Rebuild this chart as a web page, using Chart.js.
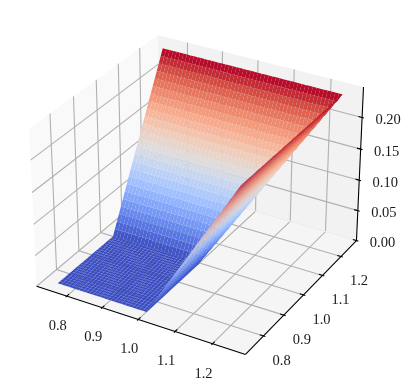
<!DOCTYPE html>
<html lang="en">

<head>
  <meta charset="UTF-8" />
  <title>Surface</title>
  <style>
    html, body { margin: 0; padding: 0; background: #fff; }
    canvas { display: block; }
  </style>
</head>

<body>
  <canvas id="surfaceChart" width="410" height="391"></canvas>
  <script src="https://cdn.jsdelivr.net/npm/chart.js"></script>
  <script>
    // Grid of the surface
    const gridX = [0.75,0.76,0.77,0.78,0.79,0.80,0.81,0.82,0.83,0.84,0.85,0.86,0.87,0.88,0.89,0.90,0.91,0.92,0.93,0.94,0.95,0.96,0.97,0.98,0.99,1.00,1.01,1.02,1.03,1.04,1.05,1.06,1.07,1.08,1.09,1.10,1.11,1.12,1.13,1.14,1.15,1.16,1.17,1.18,1.19,1.20,1.21,1.22,1.23,1.24,1.25];
    const gridY = gridX;

    // Height of each grid point, in colour bands (one band = zPerBand)
    const zPerBand = 0.0096;
    const flatRow = [0,0,0,0,0,0,0,0,0,0,0,0,0,0,0,0,0,0,0,0,0,0,0,0,0,0,1,2,3,4,5,6,7,8,9,10,11,12,13,14,15,16,17,18,19,20,21,22,23,24,25];
    const bandRows = [
      flatRow,flatRow,flatRow,flatRow,flatRow,flatRow,flatRow,flatRow,flatRow,flatRow,flatRow,flatRow,flatRow,
      flatRow,flatRow,flatRow,flatRow,flatRow,flatRow,flatRow,flatRow,flatRow,flatRow,flatRow,flatRow,flatRow,
      [1,1,1,1,1,1,1,1,1,1,1,1,1,1,1,1,1,1,1,1,1,1,1,1,1,1,1,2,3,4,5,6,7,8,9,10,11,12,13,14,15,16,17,18,19,20,21,22,23,24,25],
      [2,2,2,2,2,2,2,2,2,2,2,2,2,2,2,2,2,2,2,2,2,2,2,2,2,2,2,2,3,4,5,6,7,8,9,10,11,12,13,14,15,16,17,18,19,20,21,22,23,24,25],
      [3,3,3,3,3,3,3,3,3,3,3,3,3,3,3,3,3,3,3,3,3,3,3,3,3,3,3,3,3,4,5,6,7,8,9,10,11,12,13,14,15,16,17,18,19,20,21,22,23,24,25],
      [4,4,4,4,4,4,4,4,4,4,4,4,4,4,4,4,4,4,4,4,4,4,4,4,4,4,4,4,4,4,5,6,7,8,9,10,11,12,13,14,15,16,17,18,19,20,21,22,23,24,25],
      [5,5,5,5,5,5,5,5,5,5,5,5,5,5,5,5,5,5,5,5,5,5,5,5,5,5,5,5,5,5,5,6,7,8,9,10,11,12,13,14,15,16,17,18,19,20,21,22,23,24,25],
      [6,6,6,6,6,6,6,6,6,6,6,6,6,6,6,6,6,6,6,6,6,6,6,6,6,6,6,6,6,6,6,6,7,8,9,10,11,12,13,14,15,16,17,18,19,20,21,22,23,24,25],
      [7,7,7,7,7,7,7,7,7,7,7,7,7,7,7,7,7,7,7,7,7,7,7,7,7,7,7,7,7,7,7,7,7,8,9,10,11,12,13,14,15,16,17,18,19,20,21,22,23,24,25],
      [8,8,8,8,8,8,8,8,8,8,8,8,8,8,8,8,8,8,8,8,8,8,8,8,8,8,8,8,8,8,8,8,8,8,9,10,11,12,13,14,15,16,17,18,19,20,21,22,23,24,25],
      [9,9,9,9,9,9,9,9,9,9,9,9,9,9,9,9,9,9,9,9,9,9,9,9,9,9,9,9,9,9,9,9,9,9,9,10,11,12,13,14,15,16,17,18,19,20,21,22,23,24,25],
      [10,10,10,10,10,10,10,10,10,10,10,10,10,10,10,10,10,10,10,10,10,10,10,10,10,10,10,10,10,10,10,10,10,10,10,10,11,12,13,14,15,16,17,18,19,20,21,22,23,24,25],
      [11,11,11,11,11,11,11,11,11,11,11,11,11,11,11,11,11,11,11,11,11,11,11,11,11,11,11,11,11,11,11,11,11,11,11,11,11,12,13,14,15,16,17,18,19,20,21,22,23,24,25],
      [12,12,12,12,12,12,12,12,12,12,12,12,12,12,12,12,12,12,12,12,12,12,12,12,12,12,12,12,12,12,12,12,12,12,12,12,12,12,13,14,15,16,17,18,19,20,21,22,23,24,25],
      [13,13,13,13,13,13,13,13,13,13,13,13,13,13,13,13,13,13,13,13,13,13,13,13,13,13,13,13,13,13,13,13,13,13,13,13,13,13,13,14,15,16,17,18,19,20,21,22,23,24,25],
      [14,14,14,14,14,14,14,14,14,14,14,14,14,14,14,14,14,14,14,14,14,14,14,14,14,14,14,14,14,14,14,14,14,14,14,14,14,14,14,14,15,16,17,18,19,20,21,22,23,24,25],
      [15,15,15,15,15,15,15,15,15,15,15,15,15,15,15,15,15,15,15,15,15,15,15,15,15,15,15,15,15,15,15,15,15,15,15,15,15,15,15,15,15,16,17,18,19,20,21,22,23,24,25],
      [16,16,16,16,16,16,16,16,16,16,16,16,16,16,16,16,16,16,16,16,16,16,16,16,16,16,16,16,16,16,16,16,16,16,16,16,16,16,16,16,16,16,17,18,19,20,21,22,23,24,25],
      [17,17,17,17,17,17,17,17,17,17,17,17,17,17,17,17,17,17,17,17,17,17,17,17,17,17,17,17,17,17,17,17,17,17,17,17,17,17,17,17,17,17,17,18,19,20,21,22,23,24,25],
      [18,18,18,18,18,18,18,18,18,18,18,18,18,18,18,18,18,18,18,18,18,18,18,18,18,18,18,18,18,18,18,18,18,18,18,18,18,18,18,18,18,18,18,18,19,20,21,22,23,24,25],
      [19,19,19,19,19,19,19,19,19,19,19,19,19,19,19,19,19,19,19,19,19,19,19,19,19,19,19,19,19,19,19,19,19,19,19,19,19,19,19,19,19,19,19,19,19,20,21,22,23,24,25],
      [20,20,20,20,20,20,20,20,20,20,20,20,20,20,20,20,20,20,20,20,20,20,20,20,20,20,20,20,20,20,20,20,20,20,20,20,20,20,20,20,20,20,20,20,20,20,21,22,23,24,25],
      [21,21,21,21,21,21,21,21,21,21,21,21,21,21,21,21,21,21,21,21,21,21,21,21,21,21,21,21,21,21,21,21,21,21,21,21,21,21,21,21,21,21,21,21,21,21,21,22,23,24,25],
      [22,22,22,22,22,22,22,22,22,22,22,22,22,22,22,22,22,22,22,22,22,22,22,22,22,22,22,22,22,22,22,22,22,22,22,22,22,22,22,22,22,22,22,22,22,22,22,22,23,24,25],
      [23,23,23,23,23,23,23,23,23,23,23,23,23,23,23,23,23,23,23,23,23,23,23,23,23,23,23,23,23,23,23,23,23,23,23,23,23,23,23,23,23,23,23,23,23,23,23,23,23,24,25],
      [24,24,24,24,24,24,24,24,24,24,24,24,24,24,24,24,24,24,24,24,24,24,24,24,24,24,24,24,24,24,24,24,24,24,24,24,24,24,24,24,24,24,24,24,24,24,24,24,24,24,25],
      [25,25,25,25,25,25,25,25,25,25,25,25,25,25,25,25,25,25,25,25,25,25,25,25,25,25,25,25,25,25,25,25,25,25,25,25,25,25,25,25,25,25,25,25,25,25,25,25,25,25,25]
    ];

    // Axes
    const xLim = [0.7135, 1.2865];
    const yLim = [0.7135, 1.2865];
    const zLim = [0, 0.2475];
    const xTicks = [0.8, 0.9, 1.0, 1.1, 1.2];
    const yTicks = [0.8, 0.9, 1.0, 1.1, 1.2];
    const zTicks = [0.00, 0.05, 0.10, 0.15, 0.20];
    const xTickLabels = ['0.8', '0.9', '1.0', '1.1', '1.2'];
    const yTickLabels = ['0.8', '0.9', '1.0', '1.1', '1.2'];
    const zTickLabels = ['0.00', '0.05', '0.10', '0.15', '0.20'];

    // coolwarm colormap stops
    const coolwarm = [[59,76,192],[89,119,227],[123,159,249],[158,190,255],[192,212,245],[221,220,220],[242,203,183],[247,172,142],[238,132,104],[214,82,68],[180,4,38]];

    function coolwarmColor(t) {
      const p = Math.min(Math.max(t, 0), 1) * (coolwarm.length - 1);
      const i = Math.min(Math.floor(p), coolwarm.length - 2);
      const f = p - i;
      const c = coolwarm[i].map((v, k) => Math.round(v + (coolwarm[i + 1][k] - v) * f));
      return `rgb(${c[0]},${c[1]},${c[2]})`;
    }

    // View camera, elev 30 azim -60
    const boxX = 1.1905, boxY = 1.1905, boxZ = 0.89286, camDist = 10;
    function toCamera(x, y, z) {
      const a = ((x - xLim[0]) / (xLim[1] - xLim[0]) - 0.5) * boxX;
      const b = ((y - yLim[0]) / (yLim[1] - yLim[0]) - 0.5) * boxY;
      const c = ((z - zLim[0]) / (zLim[1] - zLim[0]) - 0.5) * boxZ;
      const depth = camDist - (0.4330127 * a - 0.75 * b + 0.5 * c);
      return {
        x: (0.8660254 * a + 0.5 * b) / depth,
        y: (-0.25 * a + 0.4330127 * b + 0.8660254 * c) / depth,
        depth: depth
      };
    }
    function path(points) {
      return points.map(p => { const v = toCamera(p[0], p[1], p[2]); return { x: v.x, y: v.y }; });
    }

    const datasets = [];
    function addPane(points, color) {
      datasets.push({ data: path(points.concat([points[0]])), showLine: true, fill: 'shape', backgroundColor: color, borderWidth: 0, pointRadius: 0 });
    }
    function addLine(points, color, width) {
      datasets.push({ data: path(points), showLine: true, fill: false, borderColor: color, borderWidth: width, pointRadius: 0 });
    }

    const [x0, x1] = xLim, [y0, y1] = yLim, [z0, z1] = zLim;

    // Panes
    addPane([[x0,y0,z0],[x0,y1,z0],[x0,y1,z1],[x0,y0,z1]], '#f9f9f9');
    addPane([[x0,y1,z0],[x1,y1,z0],[x1,y1,z1],[x0,y1,z1]], '#f2f2f2');
    addPane([[x0,y0,z0],[x1,y0,z0],[x1,y1,z0],[x0,y1,z0]], '#f5f5f5');

    // Grid
    const gridColor = '#b0b0b0';
    xTicks.forEach(x => {
      addLine([[x,y0,z0],[x,y1,z0],[x,y1,z1]], gridColor, 1.1);
    });
    yTicks.forEach(y => {
      addLine([[x1,y,z0],[x0,y,z0],[x0,y,z1]], gridColor, 1.1);
    });
    zTicks.forEach(z => {
      addLine([[x0,y0,z],[x0,y1,z]], gridColor, 1.1);
      addLine([[x0,y1,z],[x1,y1,z]], z === 0 ? '#ececec' : gridColor, 1.1);
    });

    // Axis lines and ticks
    addLine([[x0,y0,z0],[x1,y0,z0]], '#000', 1.1);
    addLine([[x1,y0,z0],[x1,y1,z0]], '#000', 1.1);
    addLine([[x1,y1,z0],[x1,y1,z1]], '#000', 1.1);
    xTicks.forEach(x => addLine([[x,y0-0.005,z0],[x,y0+0.01,z0]], '#000', 1.1));
    yTicks.forEach(y => addLine([[x1+0.005,y,z0],[x1-0.01,y,z0]], '#000', 1.1));
    zTicks.forEach(z => addLine([[x1+0.005,y1,z],[x1-0.01,y1,z]], '#000', 1.1));

    // Surface faces, far to near
    const faces = [];
    for (let i = 0; i < gridY.length - 1; i++) {
      for (let j = 0; j < gridX.length - 1; j++) {
        const corners = [[j,i],[j+1,i],[j+1,i+1],[j,i+1]].map(([a, b]) => [gridX[a], gridY[b], bandRows[b][a] * zPerBand]);
        const avgZ = corners.reduce((s, p) => s + p[2], 0) / 4;
        const depth = corners.reduce((s, p) => s + toCamera(p[0], p[1], p[2]).depth, 0) / 4;
        faces.push({ corners, avgZ, depth });
      }
    }
    const maxAvgZ = Math.max(...faces.map(f => f.avgZ));
    faces.sort((a, b) => b.depth - a.depth);
    faces.forEach(f => addPane(f.corners, coolwarmColor(f.avgZ / maxAvgZ)));

    // Tick labels sit at a fixed offset from their tick
    const tickLabels = {
      id: 'tickLabels',
      afterDatasetsDraw(chart) {
        const ctx = chart.ctx;
        const sx = chart.scales.x, sy = chart.scales.y;
        const put = (text, p, dx, dy) => {
          const v = toCamera(p[0], p[1], p[2]);
          ctx.fillText(text, sx.getPixelForValue(v.x) + dx, sy.getPixelForValue(v.y) + dy);
        };
        ctx.save();
        ctx.font = "14.5px 'Liberation Serif'";
        ctx.fillStyle = '#1a1a1a';
        ctx.textAlign = 'center';
        ctx.textBaseline = 'middle';
        xTicks.forEach((x, i) => put(xTickLabels[i], [x, y0, z0], -9, 30));
        yTicks.forEach((y, i) => put(yTickLabels[i], [x1, y, z0], 18, 25));
        zTicks.forEach((z, i) => put(zTickLabels[i], [x1, y1, z], 26, 3));
        ctx.restore();
      }
    };

    // Chart.js draws the first dataset on top
    new Chart(document.getElementById('surfaceChart'), {
      type: 'scatter',
      data: { datasets: datasets.reverse() },
      options: {
        responsive: false,
        animation: false,
        events: [],
        layout: { padding: 0 },
        plugins: { legend: { display: false }, tooltip: { enabled: false } },
        scales: {
          x: { type: 'linear', display: false, min: -0.09925, max: 0.10473 },
          y: { type: 'linear', display: false, min: -0.1015, max: 0.09303 }
        }
      },
      plugins: [tickLabels]
    });
  </script>
</body>

</html>
